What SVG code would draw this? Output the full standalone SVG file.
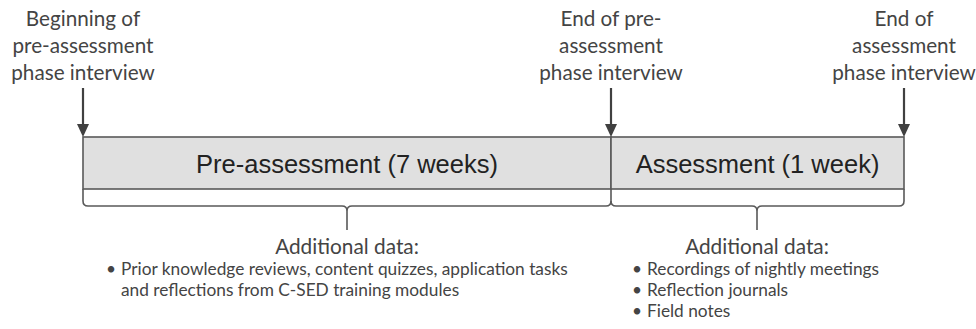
<svg xmlns="http://www.w3.org/2000/svg" width="976" height="329" viewBox="0 0 976 329">
<defs>
<style>
.lbl{font-family:Lato,"Open Sans",sans-serif;font-size:20.7px;fill:#444;text-anchor:middle}
.box{fill:#e0e0e0;stroke:#595959;stroke-width:1.6}
.boxt{font-family:"Liberation Sans",Arial,sans-serif;font-size:25.5px;fill:#222;text-anchor:middle}
.arr{stroke:#404040;stroke-width:2.2;fill:none}
.ah{fill:#404040}
.brace{stroke:#595959;stroke-width:1.6;fill:none}
.hd{font-family:Lato,"Open Sans",sans-serif;font-size:20.8px;fill:#444;text-anchor:middle}
.li{font-family:Lato,"Open Sans",sans-serif;font-size:17.3px;fill:#444}
</style>
</defs>
<g id="label-begin">
<text class="lbl" x="83" y="26">Beginning of</text>
<text class="lbl" x="83" y="53">pre-assessment</text>
<text class="lbl" x="83" y="80">phase interview</text>
</g>
<g id="label-end-pre">
<text class="lbl" x="611" y="26">End of pre-</text>
<text class="lbl" x="611" y="53">assessment</text>
<text class="lbl" x="611" y="80">phase interview</text>
</g>
<g id="label-end-assess">
<text class="lbl" x="904" y="26">End of</text>
<text class="lbl" x="904" y="53">assessment</text>
<text class="lbl" x="904" y="80">phase interview</text>
</g>
<g id="pre-assessment">
<rect class="box" x="83" y="137" width="528" height="52"/>
<text class="boxt" x="347" y="172.5">Pre-assessment (7 weeks)</text>
</g>
<g id="assessment">
<rect class="box" x="611" y="137" width="293" height="52"/>
<text class="boxt" x="757.5" y="172.5">Assessment (1 week)</text>
</g>
<g id="connectors">
<line class="arr" x1="83" y1="88" x2="83" y2="125"/>
<path class="ah" d="M77,124 L89,124 L83,137 Z"/>
<line class="arr" x1="611" y1="88" x2="611" y2="125"/>
<path class="ah" d="M605,124 L617,124 L611,137 Z"/>
<line class="arr" x1="904" y1="88" x2="904" y2="125"/>
<path class="ah" d="M898,124 L910,124 L904,137 Z"/>
<path class="brace" d="M83,189 V201 Q83,206 88,206 H342 Q347,206 347,211 V230 M347,211 Q347,206 352,206 H606 Q611,206 611,201 V189"/>
<path class="brace" d="M611,201 Q611,206 616,206 H752 Q757,206 757,211 V230 M757,211 Q757,206 762,206 H899 Q904,206 904,201 V189"/>
</g>
<g id="data-pre">
<text class="hd" x="347" y="254">Additional data:</text>
<text class="li" x="106" y="275">•</text>
<text class="li" x="121" y="275">Prior knowledge reviews, content quizzes, application tasks</text>
<text class="li" x="121" y="296">and reflections from C-SED training modules</text>
</g>
<g id="data-assess">
<text class="hd" x="757" y="254">Additional data:</text>
<text class="li" x="632" y="275">•</text>
<text class="li" x="647" y="275">Recordings of nightly meetings</text>
<text class="li" x="632" y="296">•</text>
<text class="li" x="647" y="296">Reflection journals</text>
<text class="li" x="632" y="317">•</text>
<text class="li" x="647" y="317">Field notes</text>
</g>
</svg>
